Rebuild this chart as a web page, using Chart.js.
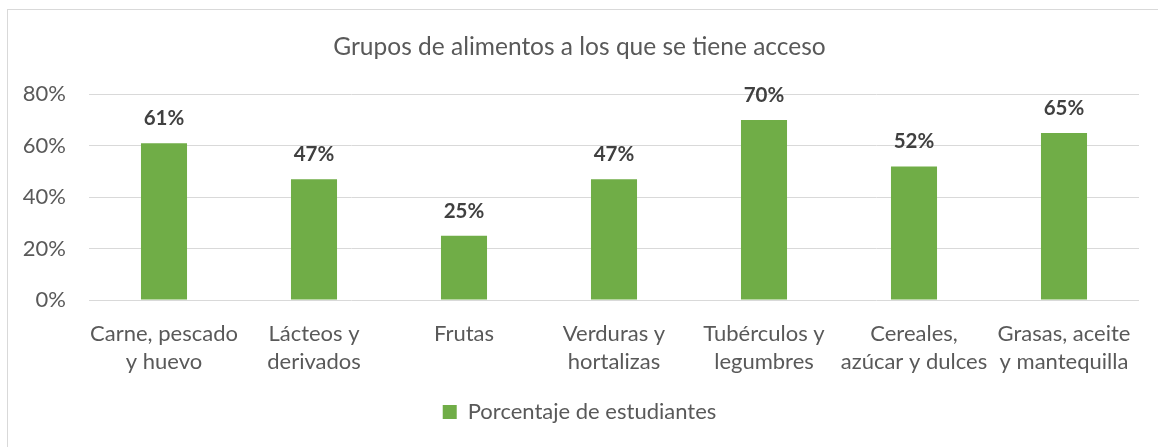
<!DOCTYPE html>
<html>
<head>
<meta charset="utf-8">
<script src="https://cdn.jsdelivr.net/npm/chart.js@4"></script>
<style>
    html, body { margin: 0; padding: 0; background: #fff; }
    #wrap { position: relative; width: 1158px; height: 447px; overflow: hidden; }
    #marco {
        position: absolute; left: 7px; top: 9px; width: 1160px; height: 450px;
        border-left: 1px solid #D9D9D9; border-top: 1px solid #D9D9D9;
        box-sizing: border-box; pointer-events: none;
    }
    canvas { position: absolute; left: 0; top: 0; }
</style>
</head>
<body>
<div id="wrap">
    <canvas id="grafico" width="1158" height="447"></canvas>
    <div id="marco"></div>
</div>
<script>
// Datos
const categorias = [
    ['Carne, pescado', 'y huevo'],
    ['Lácteos y', 'derivados'],
    ['Frutas'],
    ['Verduras y', 'hortalizas'],
    ['Tubérculos y', 'legumbres'],
    ['Cereales,', 'azúcar y dulces'],
    ['Grasas, aceite', 'y mantequilla'],
];
const porcentajes = [61, 47, 25, 47, 70, 52, 65];
const ticksEje = [0, 20, 40, 60, 80];

const VERDE = '#70AD47';
const GRIS_TEXTO = '#595959';
const GRIS_GRILLA = '#D9D9D9';

Chart.defaults.font.family = "Lato, 'Open Sans', sans-serif";
Chart.defaults.color = GRIS_TEXTO;

// Etiquetas de datos sobre cada barra
const etiquetasDatos = {
    id: 'etiquetasDatos',
    afterDatasetsDraw(chart) {
        const { ctx } = chart;
        const meta = chart.getDatasetMeta(0);
        ctx.save();
        ctx.font = "bold 20.5px Lato, 'Open Sans', sans-serif";
        ctx.fillStyle = '#404040';
        ctx.textAlign = 'center';
        ctx.textBaseline = 'alphabetic';
        meta.data.forEach((bar, i) => {
            ctx.fillText(porcentajes[i] + '%', bar.x, bar.y - 18);
        });
        ctx.restore();
    },
};

new Chart(document.getElementById('grafico'), {
    type: 'bar',
    data: {
        labels: categorias,
        datasets: [{
            label: 'Porcentaje de estudiantes',
            data: porcentajes,
            backgroundColor: VERDE,
            borderWidth: 0,
            categoryPercentage: 1,
            barPercentage: 0.307,
        }],
    },
    options: {
        responsive: false,
        animation: false,
        layout: { padding: { left: 20, right: 19, top: 20, bottom: 14 } },
        plugins: {
            title: {
                display: true,
                text: 'Grupos de alimentos a los que se tiene acceso',
                color: GRIS_TEXTO,
                font: { size: 24.5, weight: 'normal' },
                padding: { top: 12, bottom: 33 },
            },
            legend: {
                position: 'bottom',
                labels: {
                    boxWidth: 14,
                    boxHeight: 14,
                    color: GRIS_TEXTO,
                    font: { size: 22 },
                    padding: 5,
                },
            },
            tooltip: { enabled: false },
        },
        scales: {
            x: {
                grid: { display: false, drawTicks: false },
                border: { display: false },
                ticks: {
                    color: GRIS_TEXTO,
                    font: { size: 22, lineHeight: 1.27 },
                    padding: 20,
                    maxRotation: 0,
                    autoSkip: false,
                },
            },
            y: {
                min: 0,
                max: 80,
                afterFit: (s) => { s.width = 69; },
                afterBuildTicks: (s) => { s.ticks = ticksEje.map(v => ({ value: v })); },
                grid: { color: GRIS_GRILLA, lineWidth: 1, drawTicks: false },
                border: { display: false },
                ticks: {
                    color: GRIS_TEXTO,
                    font: { size: 22 },
                    padding: 23,
                    callback: (v) => v + '%',
                },
            },
        },
    },
    plugins: [etiquetasDatos],
});
</script>
</body>
</html>
